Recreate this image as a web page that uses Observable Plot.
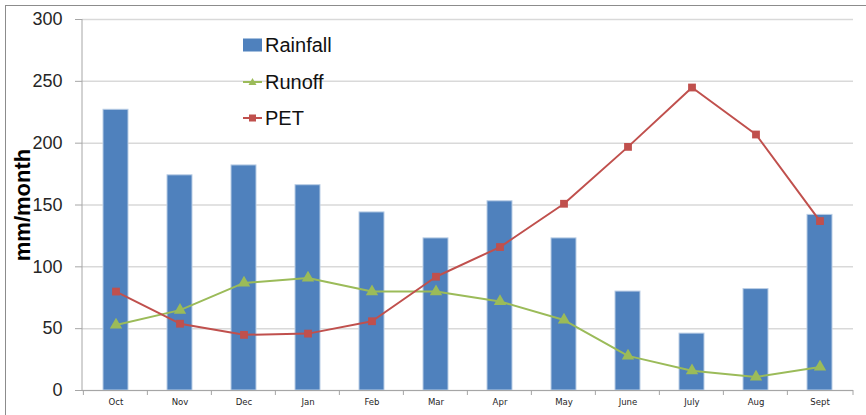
<!DOCTYPE html>
<html>
<head>
<meta charset="utf-8">
<script src="https://cdn.jsdelivr.net/npm/d3@7"></script>
<script src="https://cdn.jsdelivr.net/npm/@observablehq/plot@0.6"></script>
<style>
  html, body { margin: 0; padding: 0; background: #fff; }
  #wrap { position: relative; width: 866px; height: 415px; overflow: hidden; font-family: "Liberation Sans", Arial, sans-serif; }
  #border { position: absolute; left: 5px; top: 5px; width: 870px; height: 420px; border-top: 1px solid #8c8c8c; border-left: 1px solid #8c8c8c; box-sizing: border-box; pointer-events: none; }
  #chart { position: absolute; left: 0; top: 0; }
  .legend { position: absolute; left: 243px; font-size: 20px; color: #111; }
  .legend .row { position: absolute; left: 0; height: 24px; display: flex; align-items: center; white-space: nowrap; }
  .legend svg { margin-right: 3px; }
</style>
</head>
<body>
<div id="wrap">
  <div id="chart"></div>
  <div id="border"></div>
  <div class="legend" id="legend"></div>
</div>
<script>
const months   = ["Oct","Nov","Dec","Jan","Feb","Mar","Apr","May","June","July","Aug","Sept"];
const rainfall = [227, 174, 182, 166, 144, 123, 153, 123, 80, 46, 82, 142];
const runoff   = [53, 65, 87, 91, 80, 80, 72, 57, 28, 16, 11, 19];
const pet      = [80, 54, 45, 46, 56, 92, 116, 151, 197, 245, 207, 137];
const yTicks   = [0, 50, 100, 150, 200, 250, 300];
const seriesNames = ["Rainfall", "Runoff", "PET"];
const yLabel = "mm/month";

const colors = {Rainfall: "#4F81BD", Runoff: "#9BBB59", PET: "#C0504D"};

const data = months.map((m, i) => ({month: m, rainfall: rainfall[i], runoff: runoff[i], pet: pet[i]}));

const plot = Plot.plot({
  width: 866,
  height: 415,
  marginLeft: 82,
  marginRight: 13,
  marginTop: 19,
  marginBottom: 25,
  style: {fontFamily: "Liberation Sans, Arial, sans-serif", background: "transparent", color: "#262626"},
  x: {domain: months, paddingInner: 0.61, paddingOuter: 0.305, align: 0.5, label: null},
  y: {domain: [0, 300], label: null},
  marks: [
    Plot.gridY(yTicks, {stroke: "#d9d9d9", strokeOpacity: 1, strokeWidth: 1.5}),
    Plot.barY(data, {x: "month", y: "rainfall", fill: colors.Rainfall, stroke: "#b9cde5", strokeWidth: 1}),
    Plot.line(data, {x: "month", y: "runoff", stroke: colors.Runoff, strokeWidth: 2}),
    Plot.dot(data, {x: "month", y: "runoff", symbol: "triangle", r: 4.6, fill: colors.Runoff, stroke: "none"}),
    Plot.line(data, {x: "month", y: "pet", stroke: colors.PET, strokeWidth: 2}),
    Plot.dot(data, {x: "month", y: "pet", symbol: "square", r: 4.4, fill: colors.PET, stroke: "none"}),
    Plot.ruleY([0], {stroke: "#a6a6a6", strokeWidth: 1}),
    Plot.axisY({ticks: yTicks, tickSize: 7, tickPadding: 13, fontSize: 18, stroke: "#a6a6a6", fill: "#262626", label: null}),
    Plot.axisX({tickSize: 0, tickPadding: 8, fontSize: 9.5, fontFamily: "Liberation Sans Narrow, DejaVu Sans Condensed, sans-serif", fill: "#262626", label: null}),
    Plot.text([yLabel], {frameAnchor: "left", text: d => d, rotate: -90, dx: -60, fontSize: 22, fontWeight: "bold", fill: "#000", textAnchor: "middle"})
  ]
});
document.getElementById("chart").appendChild(plot);

// y-axis line and x-axis category boundary ticks, from the plot's own scales
const xs = plot.scale("x");
const ys = plot.scale("y");
const svg = d3.select(plot);
const step = (xs.range[1] - xs.range[0]) / months.length;
const y0 = ys.apply(0);
const yTop = ys.apply(300);
const g = svg.append("g").attr("stroke", "#a6a6a6").attr("stroke-width", 1);
g.append("line").attr("x1", xs.range[0]).attr("x2", xs.range[0]).attr("y1", yTop).attr("y2", y0 + 0.5);
const bounds = months.map(m => xs.apply(m) + xs.bandwidth / 2 - step / 2).concat([xs.range[1]]);
bounds.forEach(b => g.append("line").attr("x1", b).attr("x2", b).attr("y1", y0).attr("y2", y0 + 5));

// legend
const legend = document.getElementById("legend");
const rowTops = [33, 70, 106];
seriesNames.forEach((name, i) => {
  const row = document.createElement("div");
  row.className = "row";
  row.style.top = rowTops[i] + "px";
  let sw;
  if (name === "Rainfall") {
    sw = `<svg width="19" height="14"><rect x="0" y="0.5" width="19" height="13" fill="${colors[name]}"/></svg>`;
  } else if (name === "Runoff") {
    sw = `<svg width="19" height="14"><line x1="0" x2="19" y1="7" y2="7" stroke="${colors[name]}" stroke-width="2"/><path d="M9.5,3 L13.5,10 L5.5,10 Z" fill="${colors[name]}"/></svg>`;
  } else {
    sw = `<svg width="19" height="14"><line x1="0" x2="19" y1="7" y2="7" stroke="${colors[name]}" stroke-width="2"/><rect x="6" y="3.5" width="7" height="7" fill="${colors[name]}"/></svg>`;
  }
  row.innerHTML = sw + `<span>${name}</span>`;
  legend.appendChild(row);
});
</script>
</body>
</html>
